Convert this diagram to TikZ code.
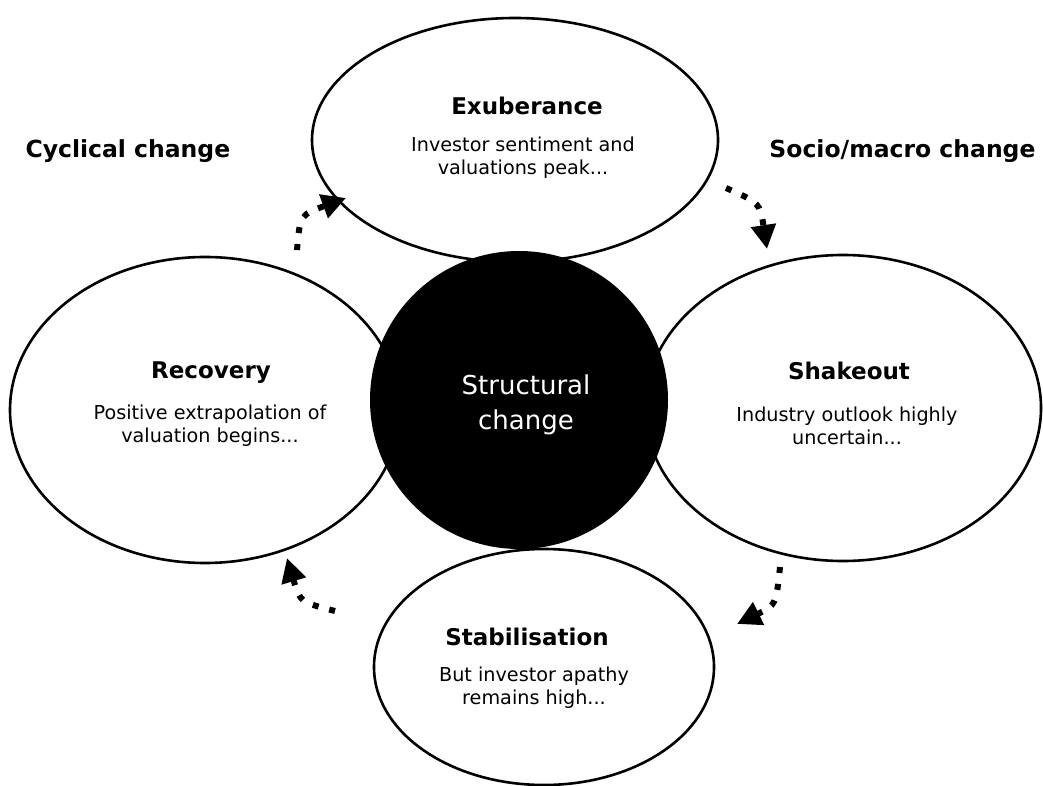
\documentclass[tikz,border=0pt]{standalone}
\usepackage{fontspec}
\setmainfont{DejaVu Sans}
\usetikzlibrary{arrows.meta,shapes.geometric}

\tikzset{
	phase/.style={ellipse,draw,line width=2.6pt,inner sep=0pt},
	phasetitle/.style={anchor=base,font=\bfseries\fontsize{23}{27}\selectfont},
	blurb/.style={align=center,font=\fontsize{19.2}{23}\selectfont},
	sidelabel/.style={font=\bfseries\fontsize{23.5}{27}\selectfont},
	loopdots/.style={line width=6pt,dash pattern=on 6pt off 11pt,-{Triangle[width=24pt,length=24pt]}}
}

\begin{document}
\begin{tikzpicture}[x=1pt,y=-1pt]
			\useasboundingbox (0,0) rectangle (1043,786);
			% the four phases
			\node[phase,minimum width=406pt,minimum height=244pt] (exu) at (515,140) {};
			\node[phase,minimum width=390pt,minimum height=306pt] (rec) at (205,410) {};
			\node[phase,minimum width=396pt,minimum height=306pt] (sha) at (843,408) {};
			\node[phase,minimum width=340pt,minimum height=236pt] (sta) at (544,667) {};
			% centre
			\node[circle,fill=black,minimum size=298pt,inner sep=0pt,text=white,align=center,
				font=\fontsize{26}{35}\selectfont] (core) at (519,400) {};
			\node[text=white,align=center,font=\fontsize{26}{35}\selectfont] (coret) at (526,405) {Structural\\change};
			% texts
			\node[phasetitle] (exut) at (527,115) {Exuberance};
			\node[blurb] (exub) at (523,158) {Investor sentiment and\\valuations peak...};
			\node[phasetitle] (rect) at (211,378) {Recovery};
			\node[blurb] (recb) at (210,426) {Positive extrapolation of\\valuation begins...};
			\node[phasetitle] (shat) at (849,379) {Shakeout};
			\node[blurb] (shab) at (847,426) {Industry outlook highly\\uncertain...};
			\node[phasetitle] (stat) at (527,645) {Stabilisation};
			\node[blurb] (stab) at (534,688) {But investor apathy\\remains high...};
			\node[sidelabel,anchor=base west] (cyc) at (22,158) {Cyclical change};
			\node[sidelabel,anchor=base east] (soc) at (1039,158) {Socio/macro change};
			% dotted arrows
			\path
			(297,250) coordinate (a1) (346,198) coordinate (a2)
			(726,188) coordinate (b1) (767,249) coordinate (b2)
			(780,567) coordinate (c1) (737,624) coordinate (c2)
			(335,611) coordinate (d1) (287,558) coordinate (d2);
			\draw[loopdots] (a1) .. controls (300,215) .. (a2);
			\draw[loopdots] (b1) .. controls (760,203) .. (b2);
			\draw[loopdots] (c1) .. controls (776,605) .. (c2);
			\draw[loopdots] (d1) .. controls (300,602) .. (d2);
		\end{tikzpicture}
\end{document}
